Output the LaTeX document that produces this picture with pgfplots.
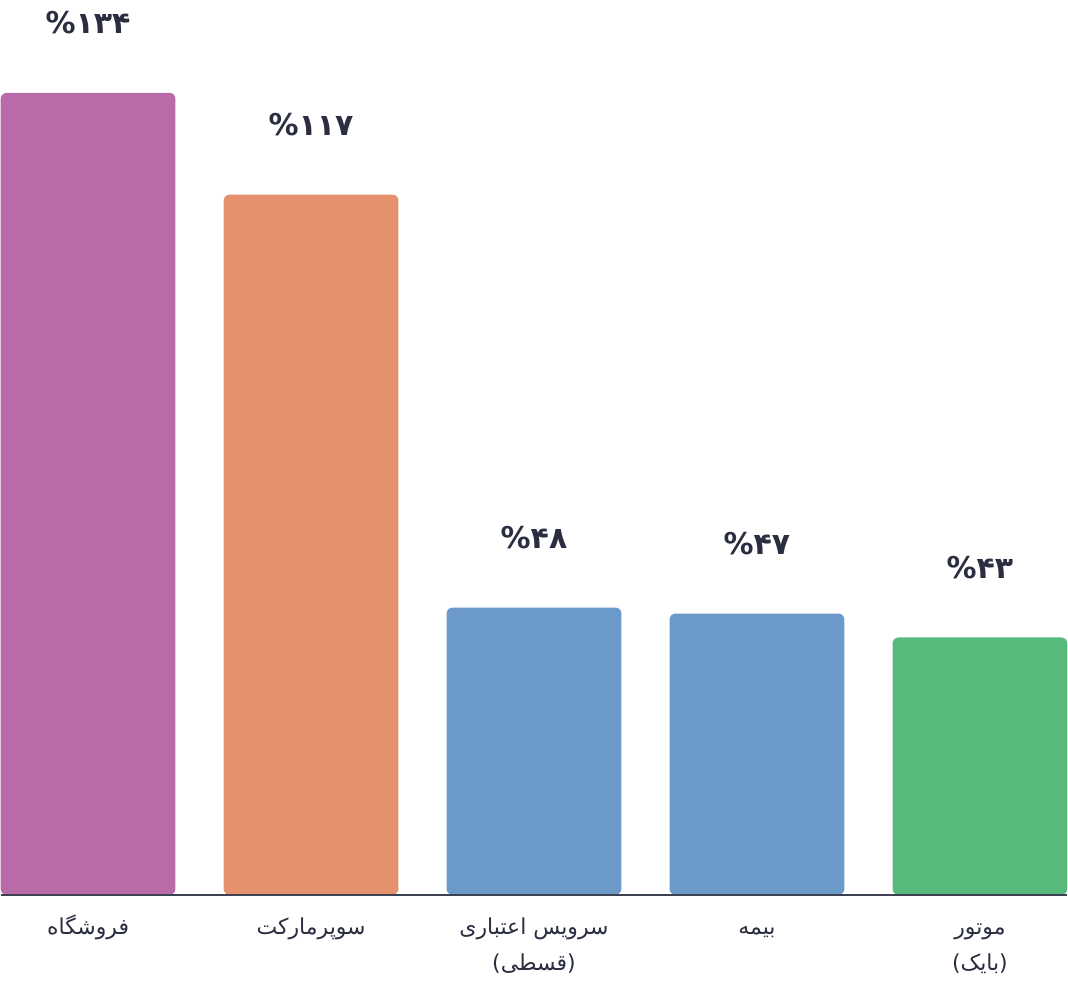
\documentclass[border=0pt]{standalone}
\usepackage{fontspec}
\usepackage{pgfplots}
\pgfplotsset{compat=1.18}
\TeXXeTstate=1
\newfontfamily\arabicfont[Script=Arabic]{DejaVu Sans}
\definecolor{cpurple}{HTML}{B96AA8}
\definecolor{corange}{HTML}{E5916D}
\definecolor{cblue}{HTML}{6B99C9}
\definecolor{cgreen}{HTML}{57B97C}
\definecolor{ctext}{HTML}{2B2E40}
\definecolor{caxis}{HTML}{3C4252}
\begin{document}
\begin{tikzpicture}
\begin{axis}[
  scale only axis,
  width=534pt, height=448pt,
  xmin=-0.392, xmax=4.392,
  ymin=0, ymax=149.52,
  ybar, bar width=87.5pt, bar shift=0pt,
  axis x line*=bottom, axis y line=none,
  x axis line style={-, draw=caxis, line width=0.7pt},
  xtick={0,1,2,3,4},
  xtick style={draw=none},
  xticklabels={
    {\strut\arabicfont\beginR فروشگاه\endR},
    {\strut\arabicfont\beginR سوپرمارکت\endR},
    {\strut\arabicfont\beginR سرویس اعتباری\endR\\\strut\arabicfont\beginR (قسطی)\endR},
    {\strut\arabicfont\beginR بیمه\endR},
    {\strut\arabicfont\beginR موتور\endR\\\strut\arabicfont\beginR (بایک)\endR}},
  xticklabel style={align=center, anchor=north, yshift=0.5pt, inner sep=3.33pt, text=ctext, font=\fontsize{11}{18}\selectfont},
  clip=false,
  axis on top,
  point meta=explicit symbolic,
  nodes near coords={\%\pgfplotspointmeta},
  every node near coord/.append style={anchor=center, yshift=35pt, text=ctext, font=\arabicfont\bfseries\fontsize{15}{18}\selectfont},
  every axis plot/.append style={draw=none, rounded corners=3pt},
]
\addplot[fill=cpurple] coordinates {(0,134) [۱۳۴]};
\addplot[fill=corange] coordinates {(1,117) [۱۱۷]};
\addplot[fill=cblue] coordinates {(2,48) [۴۸]};
\addplot[fill=cblue] coordinates {(3,47) [۴۷]};
\addplot[fill=cgreen] coordinates {(4,43) [۴۳]};
\path (rel axis cs:0,1) rectangle (rel axis cs:1,-0.09487);
\end{axis}
\end{tikzpicture}
\end{document}
